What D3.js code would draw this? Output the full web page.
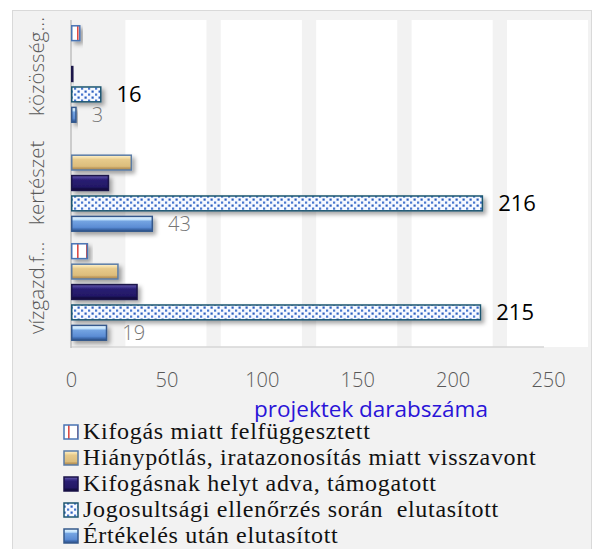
<!DOCTYPE html>
<html>
<head>
<meta charset="utf-8">
<script src="https://cdn.jsdelivr.net/npm/d3@7/dist/d3.min.js"></script>
<style>
  body { margin: 0; background: #ffffff; }
  svg { display: block; }
</style>
</head>
<body>
<div id="chart"></div>
<script>
// categories top to bottom
const categories = ["közösség...", "kertészet", "vízgazd.f..."];
const seriesNames = [
  "Kifogás miatt felfüggesztett",
  "Hiánypótlás, iratazonosítás miatt visszavont",
  "Kifogásnak helyt adva, támogatott",
  "Jogosultsági ellenőrzés során  elutasított",
  "Értékelés után elutasított"
];
const kifogas = [5, 0, 9];
const hianypotlas = [0, 32, 25];
const helytAdva = [1, 20, 35];
const jogosultsagi = [16, 216, 215];
const ertekeles = [3, 43, 19];
const xTicks = [0, 50, 100, 150, 200, 250];
const axisTitle = "projektek darabszáma";

var seriesValues = [kifogas, hianypotlas, helytAdva, jogosultsagi, ertekeles];

var width = 595, height = 549;
var svg = d3.select("#chart").append("svg")
    .attr("width", width)
    .attr("height", height);
var defs = svg.append("defs");

function vgrad(id, stops) {
    var g = defs.append("linearGradient").attr("id", id)
        .attr("x1", 0).attr("y1", 0).attr("x2", 0).attr("y2", 1);
    stops.forEach(function(s) {
        g.append("stop").attr("offset", s[0]).attr("stop-color", s[1]);
    });
}
// bevel-ish fills
vgrad("tan", [[0, "#fff4d2"], [0.2, "#f2daa0"], [0.3, "#e7ca8b"], [0.75, "#dcbd7c"], [0.84, "#c5a163"], [1, "#a3834c"]]);
vgrad("navy", [[0, "#6b60b2"], [0.2, "#3b3089"], [0.3, "#291e72"], [0.76, "#231866"], [0.86, "#17104b"], [1, "#0c0833"]]);
vgrad("blue", [[0, "#eef8ff"], [0.22, "#bde0fc"], [0.32, "#74a4e2"], [0.74, "#5b8cd4"], [0.86, "#3f6cb0"], [1, "#2c4f88"]]);

// red stripes on white
var ps = defs.append("pattern").attr("id", "stripes")
    .attr("patternUnits", "userSpaceOnUse").attr("width", 9).attr("height", 9);
ps.append("rect").attr("width", 9).attr("height", 9).attr("fill", "#ffffff");
ps.append("rect").attr("x", 5).attr("width", 1.6).attr("height", 9).attr("fill", "#dd4b45");

// blue dots on white
var pd = defs.append("pattern").attr("id", "dots")
    .attr("patternUnits", "userSpaceOnUse").attr("width", 7).attr("height", 6);
pd.append("rect").attr("width", 7).attr("height", 6).attr("fill", "#f6f9ff");
pd.append("rect").attr("x", 0.5).attr("y", 0.5).attr("width", 2.2).attr("height", 2.2).attr("fill", "#2f5fbf");
pd.append("rect").attr("x", 4).attr("y", 3.5).attr("width", 2.2).attr("height", 2.2).attr("fill", "#4a78d0");

var shadow = defs.append("filter").attr("id", "shadow")
    .attr("x", "-20%").attr("y", "-60%").attr("width", "150%").attr("height", "240%");
shadow.append("feDropShadow").attr("dx", 3).attr("dy", 3).attr("stdDeviation", 2.2)
    .attr("flood-color", "#000").attr("flood-opacity", 0.35);

var fills = ["url(#stripes)", "url(#tan)", "url(#navy)", "url(#dots)", "url(#blue)"];
var strokes = ["#4a74b4", "#5b7ca6", "#1a1248", "#1d5670", "#35598c"];

// chart frame
svg.append("rect")
    .attr("x", 12.5).attr("y", 10.5)
    .attr("width", 579).attr("height", 545)
    .attr("fill", "#f2f2f2")
    .attr("stroke", "#d9d9d9");

var plotTop = 20, plotBottom = 347;
var x = d3.scaleLinear().domain([0, 250]).range([71, 548]);
var y0 = d3.scaleBand().domain(categories).range([plotTop, plotBottom]);
var y1 = d3.scaleBand().domain(seriesNames).range([3, 105]).paddingInner(0.2).paddingOuter(0.1);

// white wall bands between the gray grid stripes
svg.append("g").selectAll("rect")
    .data(xTicks.slice(0, 5))
    .enter().append("rect")
    .attr("x", function(d) { return x(d + 28.5); })
    .attr("width", function(d) { return x(d + 71) - x(d + 28.5); })
    .attr("y", plotTop)
    .attr("height", plotBottom - plotTop)
    .attr("fill", "#ffffff");

svg.append("line")
    .attr("x1", 71).attr("x2", 544)
    .attr("y1", plotBottom).attr("y2", plotBottom)
    .attr("stroke", "#d6d6d6").attr("stroke-width", 1.5);
svg.append("line")
    .attr("x1", 71).attr("x2", 71)
    .attr("y1", plotTop).attr("y2", plotBottom + 1)
    .attr("stroke", "#bfbfbf").attr("stroke-width", 1.5);

// bars
seriesValues.forEach(function(vals, si) {
    var g = svg.append("g");
    g.selectAll("rect")
        .data(vals.map(function(v, i) { return {cat: categories[i], value: v}; })
            .filter(function(d) { return d.value > 0; }))
        .enter().append("rect")
        .attr("x", x(0) + 0.75)
        .attr("y", function(d) { return y0(d.cat) + y1(seriesNames[si]) + 0.75; })
        .attr("width", function(d) { return Math.max(x(d.value) - x(0) - 1.5, 1); })
        .attr("height", y1.bandwidth() - 1.5)
        .attr("fill", fills[si])
        .attr("stroke", strokes[si])
        .attr("stroke-width", 1.5)
        .attr("filter", "url(#shadow)");
});

// data labels
svg.append("g").selectAll("text")
    .data(jogosultsagi)
    .enter().append("text")
    .attr("x", function(d) { return x(d) + 15; })
    .attr("y", function(d, i) { return y0(categories[i]) + y1(seriesNames[3]) + y1.bandwidth() / 2 + 8; })
    .attr("font-family", "'Open Sans', sans-serif")
    .attr("font-size", 22)
    .attr("fill", "#000000")
    .text(function(d) { return d; });

svg.append("g").selectAll("text")
    .data(ertekeles)
    .enter().append("text")
    .attr("x", function(d) { return x(d) + 15; })
    .attr("y", function(d, i) { return y0(categories[i]) + y1(seriesNames[4]) + y1.bandwidth() / 2 + 7.5; })
    .attr("font-family", "'Open Sans', sans-serif")
    .attr("font-weight", 300)
    .attr("font-size", 20)
    .attr("fill", "#767676")
    .text(function(d) { return d; });

// category labels (rotated)
svg.append("g").selectAll("text")
    .data(categories)
    .enter().append("text")
    .attr("transform", function(d) {
        return "translate(44," + (y0(d) + y0.bandwidth() - 13) + ") rotate(-90)";
    })
    .attr("text-anchor", "start")
    .attr("font-family", "'Open Sans', sans-serif")
    .attr("font-weight", 300)
    .attr("font-size", 20.5)
    .attr("fill", "#595959")
    .text(function(d) { return d; });

// x axis
var xAxis = svg.append("g")
    .attr("transform", "translate(0," + plotBottom + ")")
    .call(d3.axisBottom(x).tickValues(xTicks).tickSize(0).tickPadding(26));
xAxis.select(".domain").remove();
xAxis.selectAll("text")
    .attr("font-family", "'Open Sans', sans-serif")
    .attr("font-weight", 300)
    .attr("font-size", 20)
    .attr("fill", "#595959");

svg.append("text")
    .attr("x", 371).attr("y", 417)
    .attr("text-anchor", "middle")
    .attr("font-family", "'Open Sans', sans-serif")
    .attr("font-size", 22.5)
    .attr("fill", "#2a14d8")
    .text(axisTitle);

// legend
var legend = svg.append("g").selectAll("g")
    .data(seriesNames)
    .enter().append("g")
    .attr("transform", function(d, i) { return "translate(0," + (439 + i * 26) + ")"; });
legend.append("rect")
    .attr("x", 64).attr("y", -14)
    .attr("width", 14).attr("height", 14)
    .attr("fill", function(d, i) { return fills[i]; })
    .attr("stroke", function(d, i) { return strokes[i]; })
    .attr("stroke-width", 1.5);
legend.append("text")
    .attr("x", 83).attr("y", 0)
    .attr("font-family", "'Liberation Serif', serif")
    .attr("font-size", 24)
    .attr("letter-spacing", 0.7)
    .attr("fill", "#111111")
    .style("white-space", "pre")
    .text(function(d) { return d; });
</script>
</body>
</html>
